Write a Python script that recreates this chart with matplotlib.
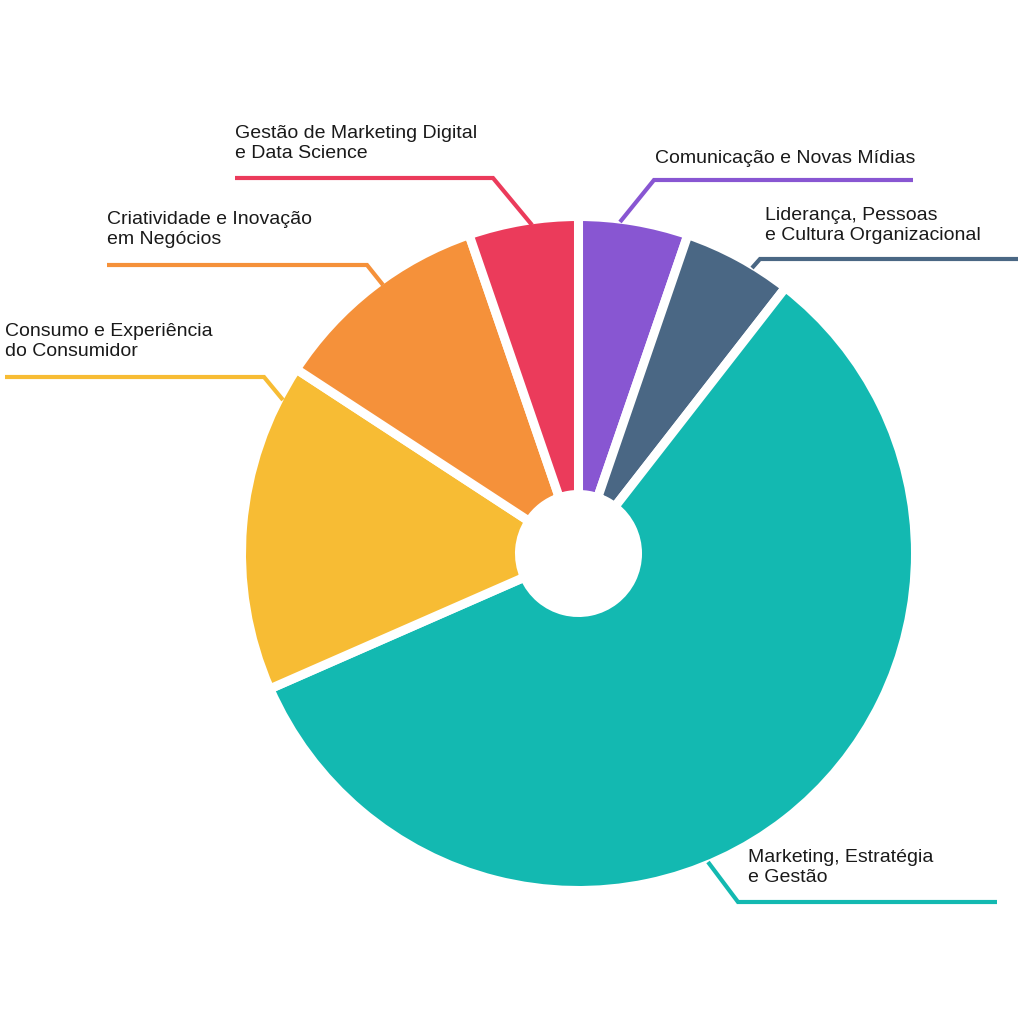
import matplotlib
matplotlib.use("Agg")
import matplotlib.pyplot as plt

# slices, clockwise from 12 o'clock
labels = [
    "Comunicação e Novas Mídias",
    "Liderança, Pessoas\ne Cultura Organizacional",
    "Marketing, Estratégia\ne Gestão",
    "Consumo e Experiência\ndo Consumidor",
    "Criatividade e Inovação\nem Negócios",
    "Gestão de Marketing Digital\ne Data Science",
]
values = [1, 1, 11, 3, 2, 1]
colors = ["#8856D2", "#4A6784", "#13B9B1", "#F7BC34", "#F5913A", "#EB3B5B"]

# label layout in pixel coords (y down): text anchor (last baseline) and leader polyline
text_pos = [(655, 163), (765, 240), (748, 882), (5, 356), (107, 244), (235, 158)]
leaders = [
    [(620, 222), (654, 180), (913, 180)],
    [(752, 268), (760, 259), (1018, 259)],
    [(708, 862), (738, 902), (997, 902)],
    [(283, 400), (264, 377), (5, 377)],
    [(383, 285), (367, 265), (107, 265)],
    [(532, 225), (493, 178), (235, 178)],
]

CX, CY = 578.5, 553.5
R_OUT, R_IN = 337, 59

fig = plt.figure(figsize=(10.24, 10.24), dpi=100)
ax = fig.add_axes([0, 0, 1, 1])
ax.set_xlim(0, 1024)
ax.set_ylim(1024, 0)
ax.set_aspect("equal")
ax.axis("off")

ax.pie(values, colors=colors, center=(CX, CY), radius=R_OUT,
       startangle=-90, counterclock=True,
       wedgeprops=dict(width=R_OUT - R_IN, edgecolor="white", linewidth=6.5))
ax.set_xlim(0, 1024)
ax.set_ylim(1024, 0)

for lab, (tx, ty), pts, c in zip(labels, text_pos, leaders, colors):
    xs = [p[0] for p in pts]
    ys = [p[1] for p in pts]
    ax.plot(xs, ys, color=c, lw=3, solid_capstyle="butt", solid_joinstyle="miter")
    ax.text(tx, ty, lab, fontsize=14, family="Liberation Sans", color="#1a1a1a",
            ha="left", va="baseline", linespacing=1.2)

fig.savefig("out.png", dpi=100, facecolor="white")
